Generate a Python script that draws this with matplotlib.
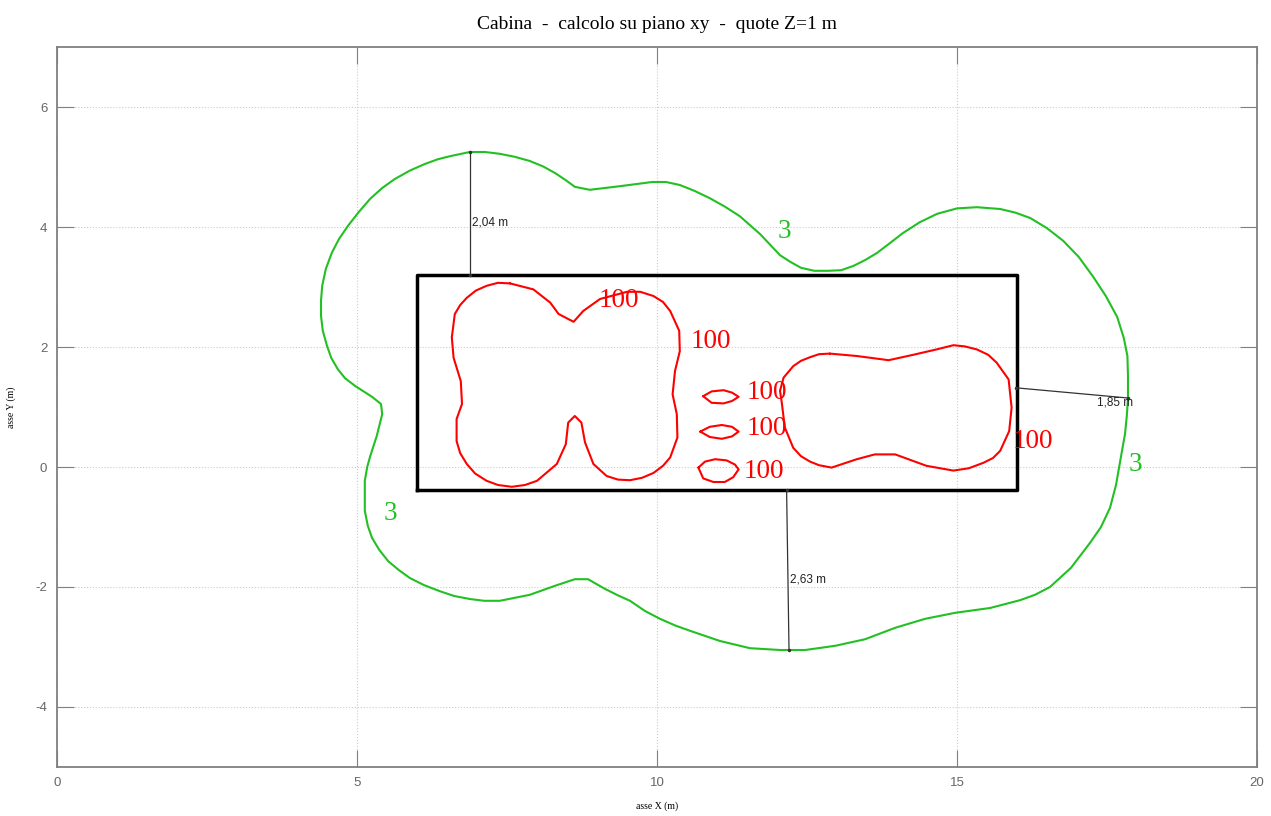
import numpy as np
import matplotlib
matplotlib.use("Agg")
import matplotlib.pyplot as plt

plt.rcParams["axes.unicode_minus"] = False

# contour 3 (green), traced clockwise
green_x = [6.88, 7.13, 7.38, 7.63, 7.88, 8.10, 8.30, 8.48, 8.63, 8.88, 9.38, 9.92, 10.15, 10.38, 10.63,
           10.88, 11.13, 11.38, 11.72, 12.05, 12.22, 12.40, 12.62, 12.85, 13.07, 13.27, 13.47, 13.67,
           13.88, 14.10, 14.38, 14.67, 15.00, 15.33, 15.72, 15.97, 16.22, 16.50, 16.77, 17.03, 17.27,
           17.48, 17.67, 17.78, 17.84, 17.85, 17.85, 17.83, 17.80, 17.72, 17.65, 17.55, 17.40, 17.22,
           16.90, 16.55, 16.30, 16.05, 15.55, 14.97, 14.47, 13.97, 13.47, 12.97, 12.47, 12.05, 11.55,
           11.05, 10.55, 10.30, 10.05, 9.80, 9.55, 9.35, 9.13, 8.85, 8.63, 8.30, 7.88, 7.38, 7.12, 6.88,
           6.62, 6.38, 6.12, 5.88, 5.70, 5.52, 5.37, 5.25, 5.18, 5.13, 5.13, 5.17, 5.22, 5.33, 5.42, 5.40,
           5.25, 4.97, 4.80, 4.68, 4.57, 4.50, 4.43, 4.40, 4.40, 4.42, 4.48, 4.58, 4.70, 4.85, 5.03,
           5.22, 5.42, 5.63, 5.88, 6.13, 6.35, 6.55]
green_y = [5.25, 5.25, 5.22, 5.17, 5.10, 5.01, 4.90, 4.78, 4.67, 4.62, 4.68, 4.75, 4.75, 4.70, 4.60,
           4.48, 4.34, 4.18, 3.88, 3.53, 3.42, 3.32, 3.27, 3.27, 3.28, 3.35, 3.45, 3.57, 3.73,
           3.90, 4.08, 4.22, 4.31, 4.33, 4.30, 4.24, 4.15, 3.98, 3.77, 3.50, 3.17, 2.85, 2.50,
           2.15, 1.85, 1.50, 1.15, 0.85, 0.55, 0.10, -0.30, -0.68, -1.00, -1.26, -1.68, -2.00,
           -2.13, -2.22, -2.35, -2.43, -2.53, -2.68, -2.87, -2.98, -3.05, -3.05, -3.02, -2.90, -2.73,
           -2.64, -2.53, -2.40, -2.23, -2.14, -2.03, -1.87, -1.87, -1.98, -2.13, -2.23, -2.23, -2.20,
           -2.15, -2.07, -1.97, -1.85, -1.72, -1.57, -1.38, -1.18, -0.98, -0.73, -0.23, 0.00, 0.18,
           0.52, 0.88, 1.05, 1.17, 1.35, 1.48, 1.63, 1.82, 2.02, 2.27, 2.52, 2.77, 3.02, 3.30, 3.57,
           3.80, 4.02, 4.25, 4.47, 4.65, 4.80, 4.94, 5.05, 5.13, 5.18]

# contours 100 (red)
redA_x = [7.55, 7.94, 8.22, 8.36, 8.61, 8.77, 9.05, 9.50, 9.72, 9.94, 10.10, 10.22, 10.37, 10.38,
          10.30, 10.26, 10.33, 10.34, 10.22, 10.10, 9.94, 9.75, 9.55, 9.35, 9.16, 8.94, 8.80, 8.74,
          8.63, 8.52, 8.48, 8.33, 8.00, 7.80, 7.58, 7.35, 7.16, 6.97, 6.83, 6.72, 6.66, 6.66, 6.75,
          6.73, 6.61, 6.58, 6.63, 6.72, 6.83, 6.98, 7.16, 7.35]
redA_y = [3.06, 2.96, 2.74, 2.55, 2.42, 2.60, 2.80, 2.92, 2.92, 2.85, 2.75, 2.60, 2.27, 1.93,
          1.60, 1.21, 0.88, 0.49, 0.16, 0.02, -0.10, -0.18, -0.22, -0.21, -0.15, 0.05, 0.41, 0.74,
          0.85, 0.74, 0.38, 0.05, -0.23, -0.30, -0.33, -0.30, -0.23, -0.11, 0.05, 0.23, 0.43, 0.80, 1.05,
          1.43, 1.82, 2.16, 2.55, 2.70, 2.82, 2.94, 3.02, 3.07]

redB_x = [12.88, 13.33, 13.86, 14.27, 14.66, 14.94, 15.13, 15.33, 15.52, 15.66, 15.86, 15.91, 15.87,
          15.72, 15.60, 15.44, 15.20, 14.94, 14.49, 13.97, 13.63, 13.33, 12.91, 12.70, 12.55, 12.40,
          12.27, 12.13, 12.08, 12.05, 12.11, 12.27, 12.40, 12.55, 12.70]
redB_y = [1.89, 1.85, 1.78, 1.87, 1.96, 2.03, 2.01, 1.96, 1.87, 1.74, 1.46, 0.99, 0.60,
          0.27, 0.15, 0.07, -0.02, -0.06, 0.02, 0.21, 0.21, 0.13, -0.01, 0.03, 0.09, 0.18,
          0.32, 0.66, 1.07, 1.27, 1.49, 1.68, 1.77, 1.83, 1.88]

hex1_x = [10.77, 10.91, 11.11, 11.25, 11.36, 11.25, 11.11, 10.91]
hex1_y = [1.18, 1.26, 1.28, 1.24, 1.17, 1.10, 1.06, 1.07]
hex2_x = [10.72, 10.88, 11.08, 11.25, 11.36, 11.25, 11.08, 10.88]
hex2_y = [0.59, 0.67, 0.70, 0.67, 0.59, 0.51, 0.47, 0.50]
hex3_x = [10.69, 10.80, 10.97, 11.16, 11.30, 11.36, 11.27, 11.13, 10.94, 10.77]
hex3_y = [-0.01, 0.09, 0.13, 0.11, 0.04, -0.04, -0.17, -0.25, -0.25, -0.19]

# cabin outline
cab_x = [6.0, 16.0]
cab_y = [-0.38, 3.2]

red_labels = [(9.37, 2.77), (10.90, 2.10), (11.83, 1.25), (11.83, 0.65), (11.78, -0.07), (16.27, 0.43)]
green_labels = [(12.12, 3.92), (17.98, 0.05), (5.55, -0.78)]

# distance markers: (x0, y0, x1, y1, text, tx, ty)
dims = [(6.88, 3.2, 6.88, 5.25, "2,04 m", 6.92, 4.08),
        (15.98, 1.32, 17.85, 1.15, "1,85 m", 17.33, 1.08),
        (12.16, -0.38, 12.20, -3.05, "2,63 m", 12.22, -1.87)]

GREEN = "#22c022"
RED = "#ff0000"


def closed(x, y):
    return list(x) + [x[0]], list(y) + [y[0]]


fig = plt.figure(figsize=(12.71, 8.16), dpi=100)
ax = fig.add_axes([0.04485, 0.06005, 0.94414, 0.88235])

ax.plot(*closed(green_x, green_y), color=GREEN, lw=1.5,
        solid_joinstyle="round", solid_capstyle="round")
for xs, ys in [(redA_x, redA_y), (redB_x, redB_y), (hex1_x, hex1_y), (hex2_x, hex2_y), (hex3_x, hex3_y)]:
    ax.plot(*closed(xs, ys), color=RED, lw=1.5, solid_joinstyle="round", solid_capstyle="round")

ax.plot([cab_x[0], cab_x[1], cab_x[1], cab_x[0], cab_x[0]],
        [cab_y[0], cab_y[0], cab_y[1], cab_y[1], cab_y[0]], color="black", lw=2.5,
        solid_capstyle="projecting")

for x0, y0, x1, y1, t, tx, ty in dims:
    ax.plot([x0, x1], [y0, y1], color="#333333", lw=0.9)
    ax.plot([x0, x1], [y0, y1], "o", color="#333333", ms=1.5)
    ax.text(tx, ty, t, fontsize=8.5, family="Liberation Sans", color="#222222", va="center", ha="left")

for x, y in red_labels:
    ax.text(x, y, "100", color=RED, fontsize=19.5, family="Liberation Serif", ha="center", va="center")
for x, y in green_labels:
    ax.text(x, y, "3", color=GREEN, fontsize=19.5, family="Liberation Serif", ha="center", va="center")

ax.set_xlim(0, 20)
ax.set_ylim(-5, 7)
ax.set_xticks([0, 5, 10, 15, 20])
ax.set_yticks([-4, -2, 0, 2, 4, 6])
ax.grid(True, color="#cccccc", linestyle=":", lw=0.8)
ax.tick_params(direction="in", length=12, color="#808080", labelcolor="#666666",
               labelsize=9.5, top=True, right=True, pad=7)
for lbl in ax.get_xticklabels() + ax.get_yticklabels():
    lbl.set_family("Liberation Sans")
for s in ax.spines.values():
    s.set_color("#808080")
    s.set_linewidth(1.3)

ax.set_xlabel("asse X (m)", fontsize=7, family="Liberation Serif", labelpad=9)
ax.set_ylabel("asse Y (m)", fontsize=7, family="Liberation Serif", labelpad=14)
ax.set_title("Cabina  -  calcolo su piano xy  -  quote Z=1 m", fontsize=14,
             family="Liberation Serif", pad=13)

fig.savefig("out.png", dpi=100)
